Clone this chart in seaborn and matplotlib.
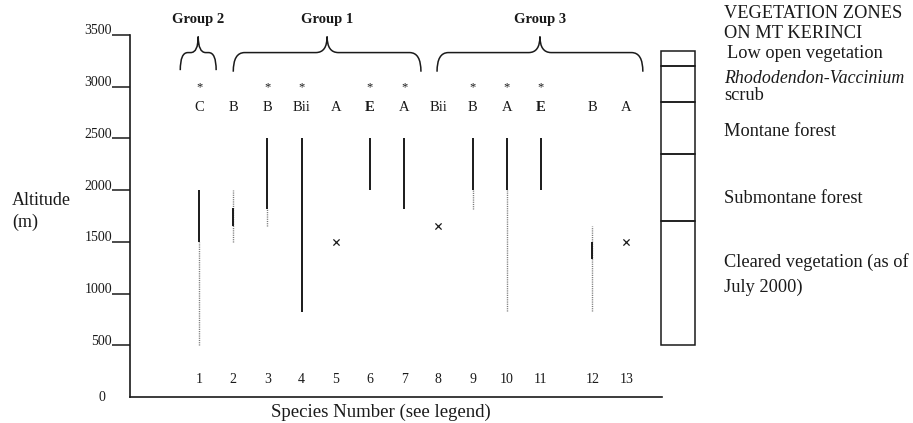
import numpy as np
import pandas as pd
import matplotlib.pyplot as plt
import matplotlib.transforms as mtransforms
from matplotlib.path import Path
from matplotlib.patches import PathPatch
import seaborn as sns

# Datos
species = np.arange(1, 14)
letters = ['C', 'B', 'B', 'Bii', 'A', 'E', 'A', 'Bii', 'B', 'A', 'E', 'B', 'A']
starred = [1, 0, 1, 1, 0, 1, 1, 0, 1, 1, 1, 0, 0]

solid_sp = [1, 2, 3, 4, 6, 7, 9, 10, 11, 12]
solid_lo = [1500, 1650, 1820, 820, 2000, 1820, 2000, 2000, 2000, 1330]
solid_hi = [2000, 1830, 2500, 2500, 2500, 2500, 2500, 2500, 2500, 1500]

dotted_sp = [1, 2, 3, 9, 10, 12]
dotted_lo = [500, 1500, 1650, 1820, 830, 830]
dotted_hi = [1500, 2000, 1820, 2000, 2000, 1650]

single_sp = [5, 8, 13]
single_alt = [1500, 1650, 1500]

groups = ['Group 2', 'Group 1', 'Group 3']
group_first = [1, 2, 8]
group_last = [1, 7, 13]

zone_lo = [500, 1700, 2350, 2850, 3200]
zone_hi = [1700, 2350, 2850, 3200, 3350]

yticks = [0, 500, 1000, 1500, 2000, 2500, 3000, 3500]


def xpos(s):
    # hueco extra entre la especie 11 y la 12
    s = np.asarray(s, dtype=float)
    return s + 0.5 * (s >= 12)


sns.set_style('white')
plt.rcParams['font.family'] = ['Liberation Serif', 'DejaVu Serif']

W, H = 913, 423
fig = plt.figure(figsize=(W / 100, H / 100), dpi=100)
ax = fig.add_axes([130 / W, 26 / H, 532 / W, 362 / H])
ax.set_xlim(-1.02, 14.54)
ax.set_ylim(0, 3500)
ax.patch.set_alpha(0)

ink = '#1a1a1a'

# rangos punteados (detras) y solidos
ax.vlines(xpos(dotted_sp), dotted_lo, dotted_hi, colors='#777777',
          linestyles=(0, (0.8, 0.8)), linewidth=1.0)
ax.vlines(xpos(solid_sp), solid_lo, solid_hi, colors=ink, linewidth=1.4)

# registros unicos
pts = pd.DataFrame({'x': xpos(single_sp), 'alt': single_alt})
sns.scatterplot(data=pts, x='x', y='alt', marker='x', s=20, color=ink,
                linewidth=0.9, ax=ax, legend=False)
ax.set_xlabel('')
ax.set_ylabel('')

# letras, asteriscos y numeros de especie
for s, let, st in zip(species, letters, starred):
    x = float(xpos(s))
    ax.text(x, 2800, let, ha='center', va='center', fontsize=10.5,
            fontweight='bold' if let == 'E' else 'normal', color=ink)
    if st:
        ax.text(x, 2990, '*', ha='center', va='center', fontsize=9, color=ink)
    ax.text(x, 165, str(s), ha='center', va='center', fontsize=10, color=ink)


# llaves de grupos
def brace(ax, x0, x1, yb, yh, yt, rx=0.28):
    xm = (x0 + x1) / 2
    verts = [(x0, yb), (x0, yh), (x0 + rx, yh),
             (xm - rx, yh), (xm, yh), (xm, yt),
             (xm, yh), (xm + rx, yh),
             (x1 - rx, yh), (x1, yh), (x1, yb)]
    codes = [Path.MOVETO, Path.CURVE3, Path.CURVE3,
             Path.LINETO, Path.CURVE3, Path.CURVE3,
             Path.CURVE3, Path.CURVE3,
             Path.LINETO, Path.CURVE3, Path.CURVE3]
    ax.add_patch(PathPatch(Path(verts, codes), fill=False, edgecolor=ink,
                           linewidth=1.1, clip_on=False))
    return xm


left_off = [-0.55, 0.0, -0.04]
right_off = [0.5, 0.49, 0.48]
for name, a, b, lo, ro in zip(groups, group_first, group_last, left_off, right_off):
    x0 = float(xpos(a)) + lo
    x1 = float(xpos(b)) + ro
    yb = 3160 if name == 'Group 2' else 3145
    xm = brace(ax, x0, x1, yb, 3330, 3485, rx=0.22 if name == 'Group 2' else 0.33)
    ax.text(xm, 3650, name, ha='center', va='center', fontsize=10.5,
            fontweight='bold', color=ink, clip_on=False)

# columna de zonas de vegetacion
ax.bar([15.0] * len(zone_lo), np.array(zone_hi) - np.array(zone_lo),
       bottom=zone_lo, width=0.99, fill=False, edgecolor=ink, linewidth=1.1,
       clip_on=False)

# ejes
sns.despine(ax=ax)
for side in ['left', 'bottom']:
    ax.spines[side].set_linewidth(1.2)
    ax.spines[side].set_color(ink)
ax.set_xticks([])
ax.set_yticks(yticks)
ax.set_yticklabels([str(v) for v in yticks], fontsize=10, color=ink)
ax.tick_params(axis='y', left=True, direction='out', length=13, width=1.1,
               pad=0, colors=ink)
offset = mtransforms.ScaledTranslation(0, 4 / 72, fig.dpi_scale_trans)
for lab in ax.get_yticklabels():
    lab.set_transform(lab.get_transform() + offset)
# el 0 no lleva marca, solo el numero junto al eje
t0 = ax.yaxis.get_major_ticks()[0]
t0.tick1line.set_visible(False)
t0.label1.set_transform(ax.get_yaxis_transform()
                        + mtransforms.ScaledTranslation(-18 / 72, 1 / 72, fig.dpi_scale_trans))

fig.text(12 / W, 1 - 200 / H, 'Altitude', ha='left', va='center', fontsize=13, color=ink)
fig.text(12 / W, 1 - 222 / H, '(m)', ha='left', va='center', fontsize=13, color=ink)
fig.text(381 / W, 1 - 412 / H, 'Species Number (see legend)', ha='center',
         va='center', fontsize=13.5, color=ink)

# leyenda de zonas (texto a la derecha)
tx = 724 / W
fs = 13.2
fig.text(tx, 1 - 13 / H, 'VEGETATION ZONES', fontsize=fs, va='center', color=ink)
fig.text(tx, 1 - 34 / H, 'ON MT KERINCI', fontsize=fs, va='center', color=ink)
fig.text(tx + 3 / W, 1 - 54 / H, 'Low open vegetation', fontsize=fs, va='center', color=ink)
fig.text(tx, 1 - 78 / H, 'Rhododendon-Vaccinium', fontsize=12.9, va='center',
         style='italic', color=ink)
fig.text(tx, 1 - 96 / H, 'scrub', fontsize=fs, va='center', color=ink)
fig.text(tx, 1 - 131 / H, 'Montane forest', fontsize=fs, va='center', color=ink)
fig.text(tx, 1 - 198 / H, 'Submontane forest', fontsize=fs, va='center', color=ink)
fig.text(tx, 1 - 262 / H, 'Cleared vegetation (as of', fontsize=fs, va='center', color=ink)
fig.text(tx, 1 - 287 / H, 'July 2000)', fontsize=fs, va='center', color=ink)

fig.savefig('out.png', dpi=100, facecolor='white')
